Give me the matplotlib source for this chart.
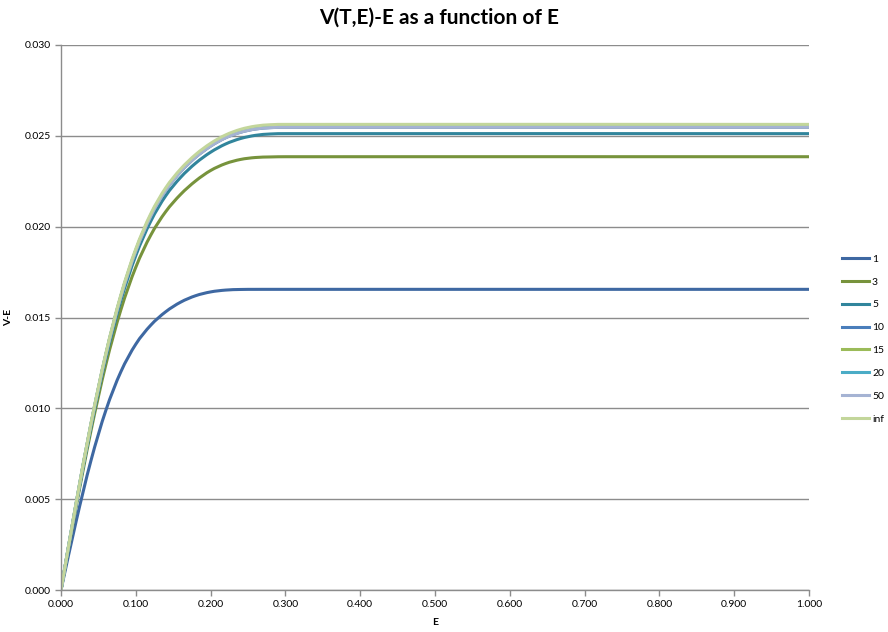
import matplotlib
matplotlib.use("Agg")
import matplotlib.pyplot as plt
from matplotlib.path import Path
from matplotlib.patches import PathPatch
from matplotlib.lines import Line2D
from matplotlib.ticker import FormatStrFormatter

plt.rcParams['font.family'] = ['Lato', 'DejaVu Sans']

E = [0.00, 0.02, 0.04, 0.06, 0.08, 0.10, 0.12, 0.14, 0.16, 0.18, 0.20,
     0.22, 0.24, 0.26, 0.28, 0.30, 1.00]

v_1 = [0.0, 0.003739, 0.007115, 0.009892, 0.012010, 0.013531, 0.014577, 0.015317,
       0.015846, 0.016200, 0.016408, 0.016509, 0.016543, 0.016549, 0.016550, 0.016550, 0.016550]
v_3 = [0.0, 0.004532, 0.008746, 0.012412, 0.015419, 0.017768, 0.019533, 0.020826,
       0.021780, 0.022519, 0.023091, 0.023473, 0.023700, 0.023807, 0.023838, 0.023850, 0.023850]
v_5 = [0.0, 0.004640, 0.008978, 0.012774, 0.015919, 0.018405, 0.020299, 0.021701,
       0.022716, 0.023495, 0.024098, 0.024550, 0.024851, 0.025027, 0.025102, 0.025120, 0.025120]
v_10 = [0.0, 0.004704, 0.009103, 0.012951, 0.016140, 0.018662, 0.020582, 0.022003,
        0.023033, 0.023822, 0.024433, 0.024892, 0.025197, 0.025376, 0.025452, 0.025470, 0.025470]
v_15 = [0.0, 0.004710, 0.009114, 0.012967, 0.016159, 0.018684, 0.020607, 0.022029,
        0.023060, 0.023850, 0.024462, 0.024921, 0.025227, 0.025406, 0.025482, 0.025500, 0.025500]
v_20 = [0.0, 0.004715, 0.009124, 0.012982, 0.016178, 0.018706, 0.020631, 0.022055,
        0.023087, 0.023878, 0.024491, 0.024950, 0.025257, 0.025436, 0.025512, 0.025530, 0.025530]
v_50 = [0.0, 0.004704, 0.009103, 0.012951, 0.016140, 0.018662, 0.020582, 0.022003,
        0.023033, 0.023822, 0.024433, 0.024892, 0.025197, 0.025376, 0.025452, 0.025470, 0.025470]
v_inf = [0.0, 0.004734, 0.009160, 0.013033, 0.016242, 0.018779, 0.020712, 0.022142,
         0.023177, 0.023972, 0.024587, 0.025048, 0.025356, 0.025535, 0.025612, 0.025630, 0.025630]

labels = ['1', '3', '5', '10', '15', '20', '50', 'inf']
series = [v_1, v_3, v_5, v_10, v_15, v_20, v_50, v_inf]
colors = ['#3E68A2', '#77933C', '#31859C', '#4A7EBB', '#9BBB59', '#4BACC6', '#A5B3D3', '#C3D69B']

x_ticks = [0.0, 0.1, 0.2, 0.3, 0.4, 0.5, 0.6, 0.7, 0.8, 0.9, 1.0]
y_ticks = [0.000, 0.005, 0.010, 0.015, 0.020, 0.025, 0.030]


def smooth_path(xs, ys):
    """Smoothed line through the data points (like a spreadsheet 'smoothed line')."""
    n = len(xs)
    slopes = []
    for i in range(n):
        if i == 0:
            m = (ys[1] - ys[0]) / (xs[1] - xs[0])
        elif i == n - 1:
            m = (ys[-1] - ys[-2]) / (xs[-1] - xs[-2])
        else:
            m = (ys[i + 1] - ys[i - 1]) / (xs[i + 1] - xs[i - 1])
        slopes.append(m)
    verts = [(xs[0], ys[0])]
    codes = [Path.MOVETO]
    for i in range(n - 1):
        h = xs[i + 1] - xs[i]
        verts += [(xs[i] + h / 3, ys[i] + slopes[i] * h / 3),
                  (xs[i + 1] - h / 3, ys[i + 1] - slopes[i + 1] * h / 3),
                  (xs[i + 1], ys[i + 1])]
        codes += [Path.CURVE4] * 3
    return Path(verts, codes)


fig = plt.figure(figsize=(8.88, 6.32), dpi=100)
ax = fig.add_axes([61/888, 42/632, (809-61)/888, (590-45)/632])

handles = []
for vals, lab, c in zip(series, labels, colors):
    patch = PathPatch(smooth_path(E, vals), facecolor='none', edgecolor=c, lw=2.2,
                      capstyle='butt', joinstyle='round')
    ax.add_patch(patch)
    handles.append(Line2D([], [], color=c, lw=2.2, label=lab))

ax.set_xlim(0, 1)
ax.set_ylim(0, 0.03)
ax.set_xticks(x_ticks)
ax.set_yticks(y_ticks)
ax.xaxis.set_major_formatter(FormatStrFormatter('%.3f'))
ax.yaxis.set_major_formatter(FormatStrFormatter('%.3f'))
ax.yaxis.grid(True, color='#8C8C8C', lw=1.0)
ax.set_axisbelow(True)
for s in ['top', 'right']:
    ax.spines[s].set_visible(False)
for s in ['left', 'bottom']:
    ax.spines[s].set_color('#8C8C8C')
    ax.spines[s].set_linewidth(1.0)
ax.tick_params(axis='both', colors='#8C8C8C', labelcolor='black', labelsize=7.5,
               length=4, width=1.0, direction='out')

ax.set_xlabel('E', fontsize=7.5, fontweight='bold', labelpad=6)
ax.set_ylabel('V-E', fontsize=7.5, fontweight='bold', labelpad=8)
fig.suptitle('V(T,E)-E as a function of E', fontsize=15, fontweight='bold', x=0.494, y=0.988)

fig.legend(handles=handles, loc='center left', bbox_to_anchor=(834/888, (632-339)/632),
           bbox_transform=fig.transFigure, frameon=False, fontsize=7.5,
           handlelength=2.6, labelspacing=1.3, handletextpad=0.25, borderpad=0.3)

fig.savefig('out.png', dpi=100)
